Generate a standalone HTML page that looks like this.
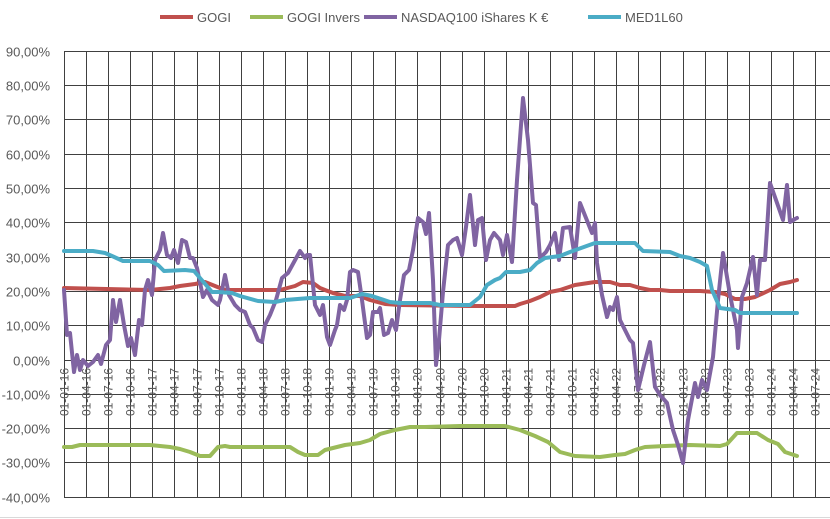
<!DOCTYPE html>
<html><head><meta charset="utf-8"><style>
html,body{margin:0;padding:0;background:#fff;}
svg{display:block;font-family:"Liberation Sans",sans-serif;}
</style></head><body>
<svg width="830" height="519" viewBox="0 0 830 519" xmlns="http://www.w3.org/2000/svg">
<rect width="830" height="519" fill="#fff"/>
<g id="grid" stroke="#404040" stroke-width="1"></g>
<g id="ylab" fill="#595959" font-size="13" text-anchor="end"></g>
<g id="xlab" fill="#595959" font-size="12" text-anchor="end"></g>
<g fill="none" stroke-width="4" stroke-linejoin="round" stroke-linecap="round">
<polyline stroke="#c0504d" points="64,288 150,290 170,288 180,286 195,284 205,282 215,286 225,290 280,290 295,286 303,282 313,283 320,288 325,290 333,293 345,296 360,296 370,300 385,304 400,305 470,306 515,306 520,304 530,301 540,297 550,292 560,290 575,285 595,282 610,282 620,285 630,285 640,288 650,290 660,290 670,291 700,291 715,292 725,294 735,299 745,299 755,297 770,290 780,284 790,282 797,280"/>
<polyline stroke="#9bbb59" points="64,447 72,447 80,445 150,445 170,447 180,449 190,452 200,456 210,456 218,447 225,446 230,447 290,447 298,452 305,455 318,455 325,450 345,445 360,443 370,440 380,434 395,430 410,427 425,427 460,426 505,426 520,430 535,436 548,442 560,452 575,456 600,457 615,455 625,454 635,450 645,447 665,446 690,445 720,446 727,444 737,433 757,433 768,440 778,444 785,452 797,456"/>
<polyline stroke="#8064a2" points="64,290 67,335 70,333 74,372 77,355 80,370 83,360 88,366 93,362 98,355 101,364 106,345 110,340 113,300 116,322 120,300 124,325 128,346 131,338 135,355 139,320 142,325 145,290 148,280 152,295 155,260 160,250 163,233 167,255 171,258 174,250 178,263 182,240 186,242 190,258 193,258 197,268 203,297 207,290 212,300 218,305 220,300 225,275 229,295 235,305 240,310 245,312 250,325 253,328 258,340 262,342 265,325 270,315 276,300 282,278 288,273 294,262 300,251 305,258 307,255 310,255 315,305 320,315 323,305 327,337 330,345 335,330 337,325 340,305 344,310 347,300 350,272 353,270 358,272 362,300 367,338 370,335 373,312 378,312 380,308 384,335 388,333 392,320 396,330 400,300 404,275 409,270 413,250 418,218 423,222 426,234 429,213 433,280 436,365 439,340 443,292 448,245 453,240 457,238 462,255 466,227 470,195 475,245 478,220 482,218 486,260 490,240 494,233 500,240 503,255 507,235 512,262 517,180 523,98 528,140 533,203 536,205 540,258 546,252 550,245 555,233 559,260 563,228 570,227 575,258 580,203 586,218 592,233 595,223 597,263 602,295 607,317 610,307 613,310 617,297 620,320 625,330 630,340 633,343 638,390 644,365 650,342 655,387 660,395 667,403 673,430 678,445 683,463 688,420 695,383 698,397 702,380 707,390 713,357 718,300 723,253 730,295 737,330 738,348 742,297 747,283 753,257 757,295 760,260 765,260 770,183 776,200 783,220 787,185 790,222 795,219 797,218"/>
<polyline stroke="#4bacc6" points="64,251 93,251 105,253 112,256 123,261 150,261 158,265 164,271 185,270 194,271 200,278 206,285 212,292 218,292 232,293 240,296 258,301 275,302 285,300 310,298 350,298 362,294 372,296 390,302 400,303 430,303 440,305 470,305 480,297 487,285 495,280 500,278 506,272 520,272 530,270 537,263 545,258 560,256 570,252 595,243 635,243 643,251 670,252 680,256 690,258 700,262 707,266 712,290 720,308 735,310 740,313 797,313"/>
</g>
<g font-size="13" fill="#595959">
<line x1="160" y1="17" x2="193" y2="17" stroke="#c0504d" stroke-width="4"/><text x="197" y="22">GOGI</text>
<line x1="250" y1="17" x2="283" y2="17" stroke="#9bbb59" stroke-width="4"/><text x="287" y="22">GOGI Invers</text>
<line x1="364" y1="17" x2="397" y2="17" stroke="#8064a2" stroke-width="4"/><text x="401" y="22">NASDAQ100 iShares K €</text>
<line x1="588" y1="17" x2="621" y2="17" stroke="#4bacc6" stroke-width="4"/><text x="625" y="22">MED1L60</text>
</g>
<line x1="0" y1="517.5" x2="830" y2="517.5" stroke="#d9d9d9"/>
<script>
var ns="http://www.w3.org/2000/svg";
var g=document.getElementById('grid'),yl=document.getElementById('ylab'),xl=document.getElementById('xlab');
function el(p,t,a){var e=document.createElementNS(ns,t);for(var k in a)e.setAttribute(k,a[k]);p.appendChild(e);return e;}
for(var v=90;v>=-40;v-=10){var y=359.5-v*3.43;y=Math.round(y)+0.5;
el(g,'line',{x1:64,y1:y,x2:830,y2:y});
var t=el(yl,'text',{x:50,y:y+5});t.textContent=v.toFixed(2).replace('.',',')+'%';}
var m=['01','04','07','10'];
for(var k=0;k<=34;k++){var x=Math.round(64+k*22.09)+0.5;
el(g,'line',{x1:x,y1:51,x2:x,y2:497});
var yr=16+Math.floor(k/4);var lab='01-'+m[k%4]+'-'+yr;
var t=el(xl,'text',{x:0,y:0,transform:'translate('+(x+4)+',368) rotate(-90)'});t.textContent=lab;}
</script>
</svg>
</body></html>
